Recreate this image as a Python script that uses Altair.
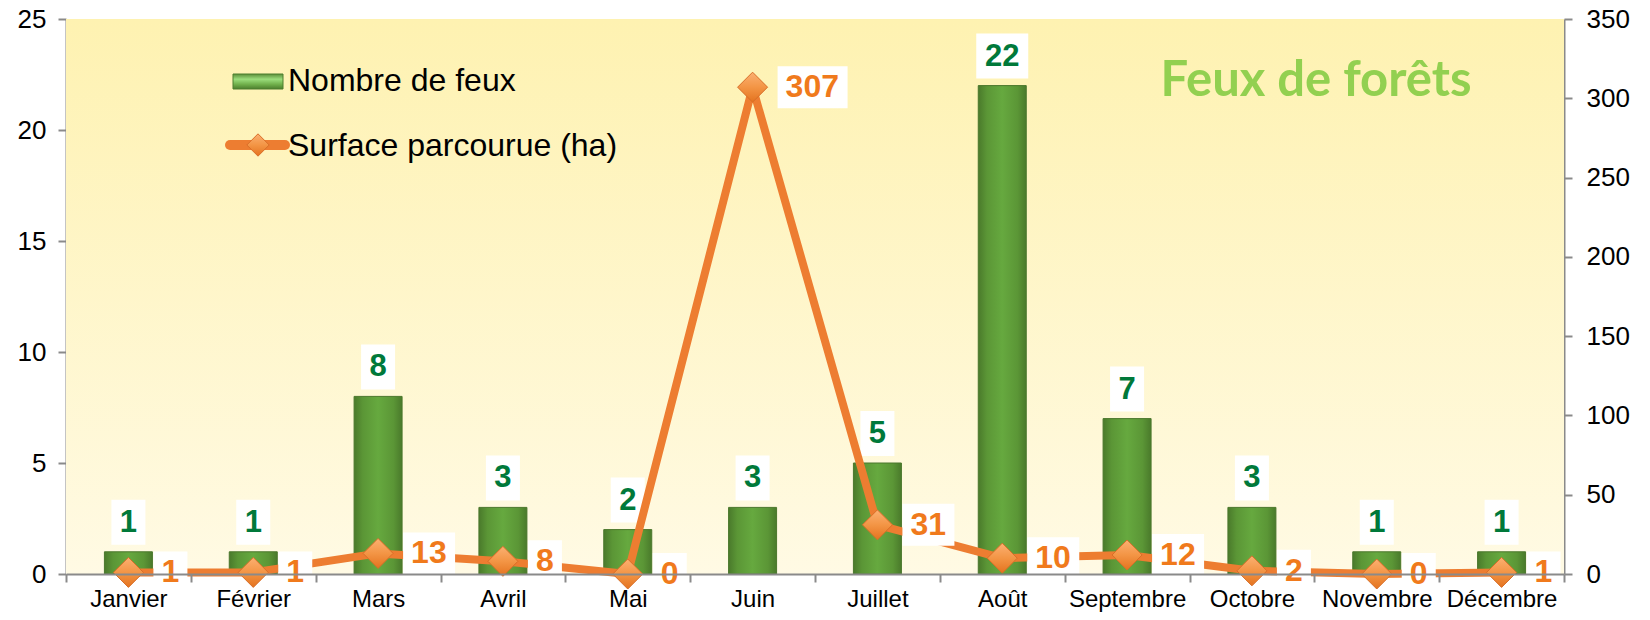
import altair as alt
import pandas as pd

months = ["Janvier", "Février", "Mars", "Avril", "Mai", "Juin", "Juillet",
          "Août", "Septembre", "Octobre", "Novembre", "Décembre"]
feux = [1, 1, 8, 3, 2, 3, 5, 22, 7, 3, 1, 1]
surface = [1, 1, 13, 8, 0, 307, 31, 10, 12, 2, 0, 1]
left_ticks = [0, 5, 10, 15, 20, 25]
right_ticks = [0, 50, 100, 150, 200, 250, 300, 350]
title_text = "Feux de forêts"
legend_bar = "Nombre de feux"
legend_line = "Surface parcourue (ha)"

df = pd.DataFrame({"month": months, "feux": feux, "surface": surface})
one = pd.DataFrame({"k": [0]})

W, H = 1498, 555
FONT = "Liberation Sans"
GREEN_TXT = "#00793A"
ORANGE_TXT = "#F07A1C"
ORANGE = "#ED7D31"
GRAY = "#8A8A8A"

bar_grad = alt.Gradient(gradient="linear", x1=0, x2=1, y1=0, y2=0, stops=[
    alt.GradientStop(color="#4A7A2B", offset=0),
    alt.GradientStop(color="#5B9636", offset=0.18),
    alt.GradientStop(color="#66A93F", offset=0.5),
    alt.GradientStop(color="#5B9636", offset=0.82),
    alt.GradientStop(color="#4A7A2B", offset=1)])
legend_bar_grad = alt.Gradient(gradient="linear", x1=0, x2=0, y1=0, y2=1, stops=[
    alt.GradientStop(color="#5C8F3A", offset=0),
    alt.GradientStop(color="#9BDD7C", offset=0.35),
    alt.GradientStop(color="#6FAE4A", offset=0.7),
    alt.GradientStop(color="#4C7E2E", offset=1)])
dia_grad = alt.Gradient(gradient="linear", x1=0, x2=0, y1=0, y2=1, stops=[
    alt.GradientStop(color="#FBB072", offset=0),
    alt.GradientStop(color="#F39545", offset=0.5),
    alt.GradientStop(color="#E4731F", offset=1)])
bg_grad = alt.Gradient(gradient="linear", x1=0, x2=0, y1=0, y2=1, stops=[
    alt.GradientStop(color="#FEF2B1", offset=0),
    alt.GradientStop(color="#FFFAE4", offset=1)])

xaxis = alt.Axis(title=None, labelFontSize=24, labelFont=FONT, labelColor="black",
                 tickBand="extent", tickSize=8, tickColor=GRAY, tickWidth=2,
                 domainColor=GRAY, domainWidth=2, labelPadding=5, labelOverlap=False,
                 labelBound=False, labelFlush=False, labelAngle=0, grid=False, zindex=1)
X = alt.X("month:N", sort=months, axis=xaxis,
          scale=alt.Scale(paddingInner=0, paddingOuter=0))

lax = alt.Axis(title=None, orient="left", values=left_ticks, grid=False, tickSize=8,
               tickColor=GRAY, tickWidth=2, domainColor=GRAY, domainWidth=2,
               labelFontSize=26, labelFont=FONT, labelColor="black", labelPadding=12)
rax = alt.Axis(title=None, orient="right", values=right_ticks, grid=False, tickSize=8,
               tickColor=GRAY, tickWidth=2, domainColor=GRAY, domainWidth=2,
               labelFontSize=26, labelFont=FONT, labelColor="black", labelPadding=14)
YL = alt.Y("feux:Q", axis=lax, scale=alt.Scale(domain=[0, 25], nice=False))
YR = alt.Y("surface:Q", axis=rax, scale=alt.Scale(domain=[0, 350], nice=False))

bg = alt.Chart(one).mark_rect(fill=bg_grad).encode(
    x=alt.value(0), x2=alt.value(W), y=alt.value(0), y2=alt.value(H))

base = alt.Chart(df)
bars = base.mark_bar(width=48, fill=bar_grad, stroke="#4A772C", strokeWidth=1).encode(x=X, y=YL)
gbox = base.transform_calculate(
    w="length(toString(datum.feux))*18+16",
    shp="'M' + (-datum.w/2) + ',-52H' + (datum.w/2) + 'V-7H' + (-datum.w/2) + 'Z'"
).mark_point(filled=True, fill="white", opacity=1, strokeWidth=0, size=4).encode(
    x=X, y=YL, shape=alt.Shape("shp:N", scale=None))
gtxt = base.mark_text(dy=-29, baseline="middle", align="center", fontSize=31,
                      fontWeight="bold", font=FONT, color=GREEN_TXT).encode(
    x=X, y=YL, text="feux:Q")
left = alt.layer(bars, gbox, gtxt)

line = base.mark_line(color=ORANGE, strokeWidth=8, strokeJoin="round").encode(x=X, y=YR)
pts = base.mark_point(shape="diamond", size=900, filled=True, fill=dia_grad, opacity=1,
                      stroke="#D86E28", strokeWidth=1).encode(x=X, y=YR)
obox = base.transform_calculate(
    w="length(toString(datum.surface))*18+16",
    shp="'M25,-21H' + (25+datum.w) + 'V21H25Z'"
).mark_point(filled=True, fill="white", opacity=1, strokeWidth=0, size=4).encode(
    x=X, y=YR, shape=alt.Shape("shp:N", scale=None))
otxt = base.mark_text(dx=33, baseline="middle", align="left", fontSize=32,
                      fontWeight="bold", font=FONT, color=ORANGE_TXT).encode(
    x=X, y=YR, text="surface:Q")
right = alt.layer(line, pts, obox, otxt)

lg_rect = alt.Chart(one).mark_rect(fill=legend_bar_grad, stroke="#4C7E2E", strokeWidth=1).encode(
    x=alt.value(167), x2=alt.value(217), y=alt.value(55), y2=alt.value(70))
lg_t1 = alt.Chart(one).mark_text(align="left", baseline="middle", fontSize=32, font=FONT,
                                 color="black", text=legend_bar).encode(
    x=alt.value(222), y=alt.value(62))
lg_rule = alt.Chart(one).mark_rule(color=ORANGE, strokeWidth=10, strokeCap="round").encode(
    x=alt.value(164), x2=alt.value(219), y=alt.value(126))
lg_dia = alt.Chart(one).mark_point(shape="diamond", size=500, filled=True, fill=dia_grad,
                                   opacity=1, stroke="#D86E28", strokeWidth=1).encode(
    x=alt.value(192), y=alt.value(126))
lg_t2 = alt.Chart(one).mark_text(align="left", baseline="middle", fontSize=32, font=FONT,
                                 color="black", text=legend_line).encode(
    x=alt.value(222), y=alt.value(127))
ttl = alt.Chart(one).mark_text(align="center", baseline="alphabetic", fontSize=49,
                               font="Lato", fontWeight="bold", color="#92D050",
                               text=title_text).encode(
    x=alt.value(1250), y=alt.value(77))

chart = alt.layer(bg, left, right, lg_rect, lg_t1, lg_rule, lg_dia, lg_t2, ttl).resolve_scale(
    y="independent"
).properties(
    width=W, height=H, autosize="none",
    padding={"left": 58, "top": 11, "right": 78, "bottom": 38},
    background="white"
).configure_view(strokeWidth=0)

chart.save("out.html", embed_options={"renderer": "svg", "actions": False})
